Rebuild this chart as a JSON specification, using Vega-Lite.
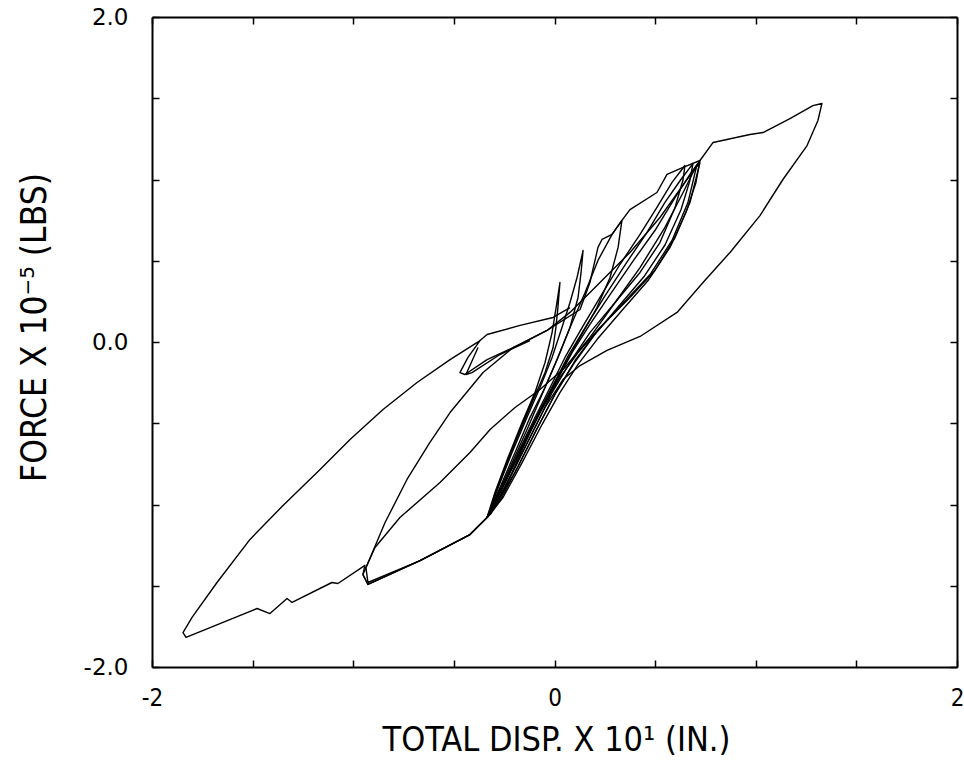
{
  "$schema": "https://vega.github.io/schema/vega-lite/v6.json",
  "width": 805,
  "height": 650,
  "autosize": "none",
  "padding": {"left": 152, "top": 17, "right": 7, "bottom": 101},
  "background": "white",
  "config": {"view": {"stroke": null}},
  "datasets": {
    "curves": [
      {"s":"big","i":1,"x":0.723,"y":1.117},{"s":"big","i":2,"x":0.788,"y":1.228},{"s":"big","i":3,"x":0.971,"y":1.277},{"s":"big","i":4,"x":1.036,"y":1.289},{"s":"big","i":5,"x":1.170,"y":1.375},{"s":"big","i":6,"x":1.284,"y":1.455},{"s":"big","i":7,"x":1.329,"y":1.468},{"s":"big","i":8,"x":1.309,"y":1.363},{"s":"big","i":9,"x":1.255,"y":1.209},{"s":"big","i":10,"x":1.135,"y":1.000},{"s":"big","i":11,"x":1.021,"y":0.778},{"s":"big","i":12,"x":0.872,"y":0.551},{"s":"big","i":13,"x":0.738,"y":0.366},{"s":"big","i":14,"x":0.609,"y":0.182},{"s":"big","i":15,"x":0.425,"y":0.034},{"s":"big","i":16,"x":0.261,"y":-0.052},{"s":"big","i":17,"x":0.127,"y":-0.145},{"s":"big","i":18,"x":0.042,"y":-0.231},{"s":"big","i":19,"x":-0.047,"y":-0.403},{"s":"big","i":20,"x":-0.147,"y":-0.649},{"s":"big","i":21,"x":-0.246,"y":-0.895},{"s":"big","i":22,"x":-0.320,"y":-1.062},{"s":"big","i":23,"x":-0.420,"y":-1.185},{"s":"big","i":24,"x":-0.668,"y":-1.345},{"s":"big","i":25,"x":-0.927,"y":-1.492},{"s":"big","i":26,"x":-0.952,"y":-1.431},{"s":"big","i":27,"x":-0.942,"y":-1.375},{"s":"big","i":28,"x":-1.076,"y":-1.486},{"s":"big","i":29,"x":-1.106,"y":-1.480},{"s":"big","i":30,"x":-1.304,"y":-1.603},{"s":"big","i":31,"x":-1.329,"y":-1.578},{"s":"big","i":32,"x":-1.414,"y":-1.671},{"s":"big","i":33,"x":-1.478,"y":-1.640},{"s":"big","i":34,"x":-1.831,"y":-1.818},{"s":"big","i":35,"x":-1.846,"y":-1.788},{"s":"big","i":36,"x":-1.801,"y":-1.695},{"s":"big","i":37,"x":-1.677,"y":-1.480},{"s":"big","i":38,"x":-1.513,"y":-1.215},{"s":"big","i":39,"x":-1.349,"y":-1.006},{"s":"big","i":40,"x":-1.180,"y":-0.803},{"s":"big","i":41,"x":-1.016,"y":-0.600},{"s":"big","i":42,"x":-0.852,"y":-0.415},{"s":"big","i":43,"x":-0.683,"y":-0.249},{"s":"big","i":44,"x":-0.519,"y":-0.108},{"s":"big","i":45,"x":-0.370,"y":0.009},{"s":"big","i":46,"x":-0.430,"y":-0.095},{"s":"big","i":47,"x":-0.470,"y":-0.188},{"s":"big","i":48,"x":-0.445,"y":-0.200},{"s":"big","i":49,"x":-0.335,"y":-0.108},{"s":"big","i":50,"x":-0.171,"y":-0.015},{"s":"big","i":51,"x":-0.037,"y":0.071},{"s":"big","i":52,"x":0.127,"y":0.200},{"s":"big","i":53,"x":0.176,"y":0.366},{"s":"big","i":54,"x":0.216,"y":0.582},{"s":"big","i":55,"x":0.236,"y":0.631},{"s":"big","i":56,"x":0.286,"y":0.662},{"s":"big","i":57,"x":0.335,"y":0.748},{"s":"big","i":58,"x":0.375,"y":0.815},{"s":"big","i":59,"x":0.509,"y":0.920},{"s":"big","i":60,"x":0.559,"y":1.031},{"s":"big","i":61,"x":0.639,"y":1.074},{"s":"big","i":62,"x":0.723,"y":1.117},
      {"s":"l2","i":1,"x":0.723,"y":1.105},{"s":"l2","i":2,"x":0.673,"y":0.858},{"s":"l2","i":3,"x":0.599,"y":0.643},{"s":"l2","i":4,"x":0.499,"y":0.440},{"s":"l2","i":5,"x":0.375,"y":0.274},{"s":"l2","i":6,"x":0.226,"y":0.089},{"s":"l2","i":7,"x":0.117,"y":-0.065},{"s":"l2","i":8,"x":0.027,"y":-0.218},{"s":"l2","i":9,"x":-0.072,"y":-0.434},{"s":"l2","i":10,"x":-0.171,"y":-0.680},{"s":"l2","i":11,"x":-0.271,"y":-0.926},{"s":"l2","i":12,"x":-0.335,"y":-1.080},{"s":"l2","i":13,"x":-0.420,"y":-1.185},{"s":"l2","i":14,"x":-0.668,"y":-1.345},{"s":"l2","i":15,"x":-0.927,"y":-1.492},{"s":"l2","i":16,"x":-0.952,"y":-1.431},{"s":"l2","i":17,"x":-0.932,"y":-1.375},{"s":"l2","i":18,"x":-0.842,"y":-1.111},{"s":"l2","i":19,"x":-0.733,"y":-0.846},{"s":"l2","i":20,"x":-0.619,"y":-0.618},{"s":"l2","i":21,"x":-0.519,"y":-0.434},{"s":"l2","i":22,"x":-0.355,"y":-0.188},{"s":"l2","i":23,"x":-0.206,"y":-0.034},{"s":"l2","i":24,"x":-0.037,"y":0.071},{"s":"l2","i":25,"x":0.077,"y":0.182},{"s":"l2","i":26,"x":0.226,"y":0.366},{"s":"l2","i":27,"x":0.375,"y":0.551},{"s":"l2","i":28,"x":0.524,"y":0.766},{"s":"l2","i":29,"x":0.648,"y":0.982},{"s":"l2","i":30,"x":0.723,"y":1.105},
      {"s":"l3","i":1,"x":0.708,"y":1.092},{"s":"l3","i":2,"x":0.663,"y":0.858},{"s":"l3","i":3,"x":0.584,"y":0.625},{"s":"l3","i":4,"x":0.475,"y":0.415},{"s":"l3","i":5,"x":0.335,"y":0.231},{"s":"l3","i":6,"x":0.206,"y":0.058},{"s":"l3","i":7,"x":0.102,"y":-0.114},{"s":"l3","i":8,"x":0.002,"y":-0.323},{"s":"l3","i":9,"x":-0.097,"y":-0.557},{"s":"l3","i":10,"x":-0.196,"y":-0.803},{"s":"l3","i":11,"x":-0.286,"y":-0.988},{"s":"l3","i":12,"x":-0.335,"y":-1.080},{"s":"l3","i":13,"x":-0.420,"y":-1.185},{"s":"l3","i":14,"x":-0.668,"y":-1.345},{"s":"l3","i":15,"x":-0.927,"y":-1.480},{"s":"l3","i":16,"x":-0.937,"y":-1.388},{"s":"l3","i":17,"x":-0.892,"y":-1.265},{"s":"l3","i":18,"x":-0.768,"y":-1.080},{"s":"l3","i":19,"x":-0.569,"y":-0.865},{"s":"l3","i":20,"x":-0.420,"y":-0.680},{"s":"l3","i":21,"x":-0.320,"y":-0.538},{"s":"l3","i":22,"x":-0.196,"y":-0.403},{"s":"l3","i":23,"x":-0.072,"y":-0.292},{"s":"l3","i":24,"x":0.052,"y":-0.157},{"s":"l3","i":25,"x":0.176,"y":0.028},{"s":"l3","i":26,"x":0.301,"y":0.243},{"s":"l3","i":27,"x":0.425,"y":0.458},{"s":"l3","i":28,"x":0.549,"y":0.705},{"s":"l3","i":29,"x":0.639,"y":0.920},{"s":"l3","i":30,"x":0.708,"y":1.092},
      {"s":"c1","i":1,"x":-0.335,"y":-1.080},{"s":"c1","i":2,"x":-0.296,"y":-0.926},{"s":"c1","i":3,"x":-0.231,"y":-0.711},{"s":"c1","i":4,"x":-0.161,"y":-0.495},{"s":"c1","i":5,"x":-0.097,"y":-0.311},{"s":"c1","i":6,"x":-0.047,"y":-0.126},{"s":"c1","i":7,"x":-0.012,"y":0.058},{"s":"c1","i":8,"x":0.012,"y":0.243},{"s":"c1","i":9,"x":0.027,"y":0.366},{"s":"c1","i":10,"x":0.017,"y":0.212},{"s":"c1","i":11,"x":0.007,"y":0.089},{"s":"c1","i":12,"x":-0.007,"y":-0.034},{"s":"c1","i":13,"x":-0.047,"y":-0.188},{"s":"c1","i":14,"x":-0.122,"y":-0.403},{"s":"c1","i":15,"x":-0.196,"y":-0.618},{"s":"c1","i":16,"x":-0.271,"y":-0.865},{"s":"c1","i":17,"x":-0.335,"y":-1.080},
      {"s":"c2","i":1,"x":-0.335,"y":-1.080},{"s":"c2","i":2,"x":-0.281,"y":-0.895},{"s":"c2","i":3,"x":-0.211,"y":-0.680},{"s":"c2","i":4,"x":-0.137,"y":-0.465},{"s":"c2","i":5,"x":-0.072,"y":-0.280},{"s":"c2","i":6,"x":-0.012,"y":-0.095},{"s":"c2","i":7,"x":0.037,"y":0.089},{"s":"c2","i":8,"x":0.077,"y":0.243},{"s":"c2","i":9,"x":0.112,"y":0.397},{"s":"c2","i":10,"x":0.142,"y":0.563},{"s":"c2","i":11,"x":0.132,"y":0.428},{"s":"c2","i":12,"x":0.117,"y":0.274},{"s":"c2","i":13,"x":0.077,"y":0.089},{"s":"c2","i":14,"x":0.017,"y":-0.095},{"s":"c2","i":15,"x":-0.047,"y":-0.280},{"s":"c2","i":16,"x":-0.132,"y":-0.526},{"s":"c2","i":17,"x":-0.221,"y":-0.772},{"s":"c2","i":18,"x":-0.296,"y":-0.975},{"s":"c2","i":19,"x":-0.335,"y":-1.080},
      {"s":"c3","i":1,"x":-0.335,"y":-1.080},{"s":"c3","i":2,"x":-0.271,"y":-0.895},{"s":"c3","i":3,"x":-0.196,"y":-0.680},{"s":"c3","i":4,"x":-0.122,"y":-0.465},{"s":"c3","i":5,"x":-0.047,"y":-0.280},{"s":"c3","i":6,"x":0.017,"y":-0.095},{"s":"c3","i":7,"x":0.077,"y":0.089},{"s":"c3","i":8,"x":0.152,"y":0.305},{"s":"c3","i":9,"x":0.216,"y":0.502},{"s":"c3","i":10,"x":0.286,"y":0.662},{"s":"c3","i":11,"x":0.335,"y":0.748},{"s":"c3","i":12,"x":0.316,"y":0.582},{"s":"c3","i":13,"x":0.276,"y":0.397},{"s":"c3","i":14,"x":0.211,"y":0.212},{"s":"c3","i":15,"x":0.127,"y":0.028},{"s":"c3","i":16,"x":0.042,"y":-0.157},{"s":"c3","i":17,"x":-0.037,"y":-0.342},{"s":"c3","i":18,"x":-0.122,"y":-0.557},{"s":"c3","i":19,"x":-0.211,"y":-0.803},{"s":"c3","i":20,"x":-0.286,"y":-0.988},{"s":"c3","i":21,"x":-0.335,"y":-1.080},
      {"s":"c4","i":1,"x":-0.335,"y":-1.080},{"s":"c4","i":2,"x":-0.261,"y":-0.895},{"s":"c4","i":3,"x":-0.181,"y":-0.680},{"s":"c4","i":4,"x":-0.097,"y":-0.465},{"s":"c4","i":5,"x":-0.022,"y":-0.280},{"s":"c4","i":6,"x":0.052,"y":-0.095},{"s":"c4","i":7,"x":0.137,"y":0.089},{"s":"c4","i":8,"x":0.226,"y":0.274},{"s":"c4","i":9,"x":0.325,"y":0.477},{"s":"c4","i":10,"x":0.425,"y":0.662},{"s":"c4","i":11,"x":0.509,"y":0.828},{"s":"c4","i":12,"x":0.584,"y":0.982},{"s":"c4","i":13,"x":0.648,"y":1.086},{"s":"c4","i":14,"x":0.639,"y":1.000},{"s":"c4","i":15,"x":0.599,"y":0.828},{"s":"c4","i":16,"x":0.524,"y":0.612},{"s":"c4","i":17,"x":0.425,"y":0.428},{"s":"c4","i":18,"x":0.301,"y":0.243},{"s":"c4","i":19,"x":0.176,"y":0.058},{"s":"c4","i":20,"x":0.077,"y":-0.126},{"s":"c4","i":21,"x":-0.012,"y":-0.311},{"s":"c4","i":22,"x":-0.097,"y":-0.526},{"s":"c4","i":23,"x":-0.196,"y":-0.772},{"s":"c4","i":24,"x":-0.281,"y":-0.988},{"s":"c4","i":25,"x":-0.335,"y":-1.080},
      {"s":"c5","i":1,"x":-0.335,"y":-1.080},{"s":"c5","i":2,"x":-0.246,"y":-0.865},{"s":"c5","i":3,"x":-0.161,"y":-0.649},{"s":"c5","i":4,"x":-0.072,"y":-0.434},{"s":"c5","i":5,"x":0.007,"y":-0.249},{"s":"c5","i":6,"x":0.087,"y":-0.065},{"s":"c5","i":7,"x":0.176,"y":0.108},{"s":"c5","i":8,"x":0.276,"y":0.292},{"s":"c5","i":9,"x":0.385,"y":0.489},{"s":"c5","i":10,"x":0.499,"y":0.686},{"s":"c5","i":11,"x":0.599,"y":0.889},{"s":"c5","i":12,"x":0.673,"y":1.031},{"s":"c5","i":13,"x":0.723,"y":1.117},{"s":"c5","i":14,"x":0.703,"y":0.982},{"s":"c5","i":15,"x":0.653,"y":0.797},{"s":"c5","i":16,"x":0.574,"y":0.582},{"s":"c5","i":17,"x":0.465,"y":0.378},{"s":"c5","i":18,"x":0.335,"y":0.194},{"s":"c5","i":19,"x":0.211,"y":0.015},{"s":"c5","i":20,"x":0.117,"y":-0.138},{"s":"c5","i":21,"x":0.027,"y":-0.311},{"s":"c5","i":22,"x":-0.062,"y":-0.508},{"s":"c5","i":23,"x":-0.161,"y":-0.742},{"s":"c5","i":24,"x":-0.256,"y":-0.957},{"s":"c5","i":25,"x":-0.335,"y":-1.080},
      {"s":"c6","i":1,"x":-0.320,"y":-1.062},{"s":"c6","i":2,"x":-0.251,"y":-0.880},{"s":"c6","i":3,"x":-0.171,"y":-0.665},{"s":"c6","i":4,"x":-0.085,"y":-0.450},{"s":"c6","i":5,"x":-0.007,"y":-0.265},{"s":"c6","i":6,"x":0.070,"y":-0.080},{"s":"c6","i":7,"x":0.157,"y":0.098},{"s":"c6","i":8,"x":0.250,"y":0.283},{"s":"c6","i":9,"x":0.355,"y":0.483},{"s":"c6","i":10,"x":0.460,"y":0.674},{"s":"c6","i":11,"x":0.548,"y":0.858},{"s":"c6","i":12,"x":0.628,"y":1.000},{"s":"c6","i":13,"x":0.688,"y":1.098},{"s":"c6","i":14,"x":0.672,"y":0.990},{"s":"c6","i":15,"x":0.628,"y":0.812},{"s":"c6","i":16,"x":0.549,"y":0.597},{"s":"c6","i":17,"x":0.445,"y":0.403},{"s":"c6","i":18,"x":0.318,"y":0.218},{"s":"c6","i":19,"x":0.194,"y":0.037},{"s":"c6","i":20,"x":0.097,"y":-0.132},{"s":"c6","i":21,"x":0.007,"y":-0.311},{"s":"c6","i":22,"x":-0.080,"y":-0.517},{"s":"c6","i":23,"x":-0.178,"y":-0.757},{"s":"c6","i":24,"x":-0.268,"y":-0.972},{"s":"c6","i":25,"x":-0.320,"y":-1.062},
      {"s":"h2","i":1,"x":-0.370,"y":0.009},{"s":"h2","i":2,"x":-0.335,"y":0.046},{"s":"h2","i":3,"x":-0.171,"y":0.102},{"s":"h2","i":4,"x":-0.007,"y":0.151},{"s":"h2","i":5,"x":0.077,"y":0.212},
      {"s":"h3","i":1,"x":-0.380,"y":-0.034},{"s":"h3","i":2,"x":-0.440,"y":-0.200},{"s":"h3","i":3,"x":-0.410,"y":-0.188},{"s":"h3","i":4,"x":-0.271,"y":-0.077},{"s":"h3","i":5,"x":-0.122,"y":0.009}
    ]
  },
  "data": {"name": "curves"},
  "layer": [
    {
      "mark": {"type": "line", "color": "black", "strokeWidth": 1.4, "strokeJoin": "round"},
      "encoding": {
        "x": {
          "field": "x", "type": "quantitative",
          "scale": {"domain": [-2, 2], "nice": false, "zero": false},
          "axis": {
            "orient": "bottom",
            "values": [-2, -1.5, -1, -0.5, 0, 0.5, 1, 1.5, 2],
            "grid": false,
            "tickSize": -7, "tickColor": "black", "tickWidth": 1.5,
            "domainColor": "black", "domainWidth": 2,
            "labelExpr": "datum.value == 0 ? '0' : datum.value == 2 ? '2' : datum.value == -2 ? '-2' : ''",
            "labelFont": "Liberation Sans Narrow, DejaVu Sans Condensed, Liberation Sans",
            "labelFontSize": 24, "labelColor": "black", "labelPadding": 26,
            "labelFlush": false, "labelOverlap": false, "labelBaseline": "top",
            "title": "TOTAL DISP. X 10¹ (IN.)",
            "titleFont": "Liberation Sans Narrow, DejaVu Sans Condensed, Liberation Sans",
            "titleFontSize": 34, "titleFontWeight": "normal", "titleColor": "black",
            "titleX": 404, "titleY": 73, "titleBaseline": "middle", "titleAlign": "center"
          }
        },
        "y": {
          "field": "y", "type": "quantitative",
          "scale": {"domain": [-2, 2], "nice": false, "zero": false},
          "axis": {
            "orient": "left",
            "values": [-2, -1.5, -1, -0.5, 0, 0.5, 1, 1.5, 2],
            "grid": false,
            "tickSize": -7, "tickColor": "black", "tickWidth": 1.5,
            "domainColor": "black", "domainWidth": 2,
            "labelExpr": "datum.value == 0 ? '0.0' : datum.value == 2 ? '2.0' : datum.value == -2 ? '-2.0' : ''",
            "labelFont": "DejaVu Sans", "labelFontSize": 23, "labelColor": "black",
            "labelPadding": 31, "labelFlush": false, "labelOverlap": false,
            "title": "FORCE X 10⁻⁵ (LBS)",
            "titleFont": "Liberation Sans Narrow, DejaVu Sans Condensed, Liberation Sans",
            "titleFontSize": 35, "titleFontWeight": "normal", "titleColor": "black",
            "titleAngle": -90, "titleX": -118, "titleY": 310, "titleBaseline": "middle", "titleAlign": "center"
          }
        },
        "detail": {"field": "s", "type": "nominal"},
        "order": {"field": "i", "type": "quantitative"}
      }
    },
    {
      "mark": {"type": "point", "opacity": 0},
      "encoding": {
        "x": {
          "field": "x", "type": "quantitative",
          "scale": {"domain": [-2, 2], "nice": false, "zero": false},
          "axis": {
            "orient": "top", "values": [-2, -1.5, -1, -0.5, 0, 0.5, 1, 1.5, 2],
            "grid": false, "labels": false, "title": null,
            "tickSize": -7, "tickColor": "black", "tickWidth": 1.5,
            "domainColor": "black", "domainWidth": 2
          }
        },
        "y": {
          "field": "y", "type": "quantitative",
          "scale": {"domain": [-2, 2], "nice": false, "zero": false},
          "axis": {
            "orient": "right", "values": [-2, -1.5, -1, -0.5, 0, 0.5, 1, 1.5, 2],
            "grid": false, "labels": false, "title": null,
            "tickSize": -7, "tickColor": "black", "tickWidth": 1.5,
            "domainColor": "black", "domainWidth": 2
          }
        }
      }
    }
  ],
  "resolve": {"axis": {"x": "independent", "y": "independent"}}
}
